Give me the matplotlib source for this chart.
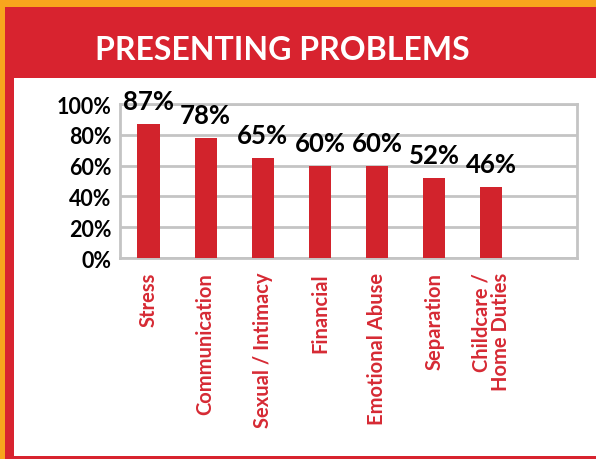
import matplotlib.pyplot as plt
from matplotlib.patches import Rectangle

categories = ['Stress', 'Communication', 'Sexual / Intimacy', 'Financial',
              'Emotional Abuse', 'Separation', 'Childcare /\nHome Duties', '']
values = [87, 78, 65, 60, 60, 52, 46, None]
y_ticks = [0, 20, 40, 60, 80, 100]

orange = '#F8A51D'
red = '#D8232F'
grid_gray = '#C4C4C4'
font = 'Lato'

fig = plt.figure(figsize=(5.96, 4.60), dpi=100, facecolor=orange)

# red panel and white inner panel
fig.patches.append(Rectangle((5/596, 0), 1, (460-8)/460, transform=fig.transFigure,
                             facecolor=red, edgecolor='none', zorder=-2))
fig.patches.append(Rectangle((14/596, 3/460), 1, (457-79)/460, transform=fig.transFigure,
                             facecolor='white', edgecolor='none', zorder=-1))

fig.text(282/596, (460-50)/460, 'PRESENTING PROBLEMS', color='white', fontsize=23,
         fontweight='bold', family=font, ha='center', va='center')

ax = fig.add_axes([120/596, (460-259)/460, (577-120)/596, (259-105)/460])
ax.set_facecolor('none')
ax.set_zorder(2)

x = list(range(len(categories)))
for i, v in enumerate(values):
    if v is None:
        continue
    ax.bar(i, v, width=0.39, color='#D2232C', zorder=3)
    ax.text(i, v + 7, f'{v}%', ha='center', va='bottom', fontsize=18.5,
            fontweight='bold', family=font, color='black', zorder=4, clip_on=False)

ax.set_xlim(-0.5, len(categories) - 0.5)
ax.set_ylim(0, 100)
ax.set_yticks(y_ticks)
ax.set_yticklabels([f'{t}%' for t in y_ticks], fontsize=15.5, fontweight='bold',
                   family=font, color='black')
ax.set_xticks(x)
ax.set_xticklabels(categories, rotation=90, fontsize=14.5, fontweight='bold',
                   family=font, color='#D62A34', va='top', ha='center',
                   multialignment='right', linespacing=1.0)
ax.tick_params(axis='x', length=0, pad=10)
ax.tick_params(axis='y', length=0, pad=6)
ax.yaxis.grid(True, color=grid_gray, linewidth=2, zorder=1)
for s in ax.spines.values():
    s.set_color(grid_gray)
    s.set_linewidth(2)

plt.savefig('out.png', dpi=100, facecolor=orange)
